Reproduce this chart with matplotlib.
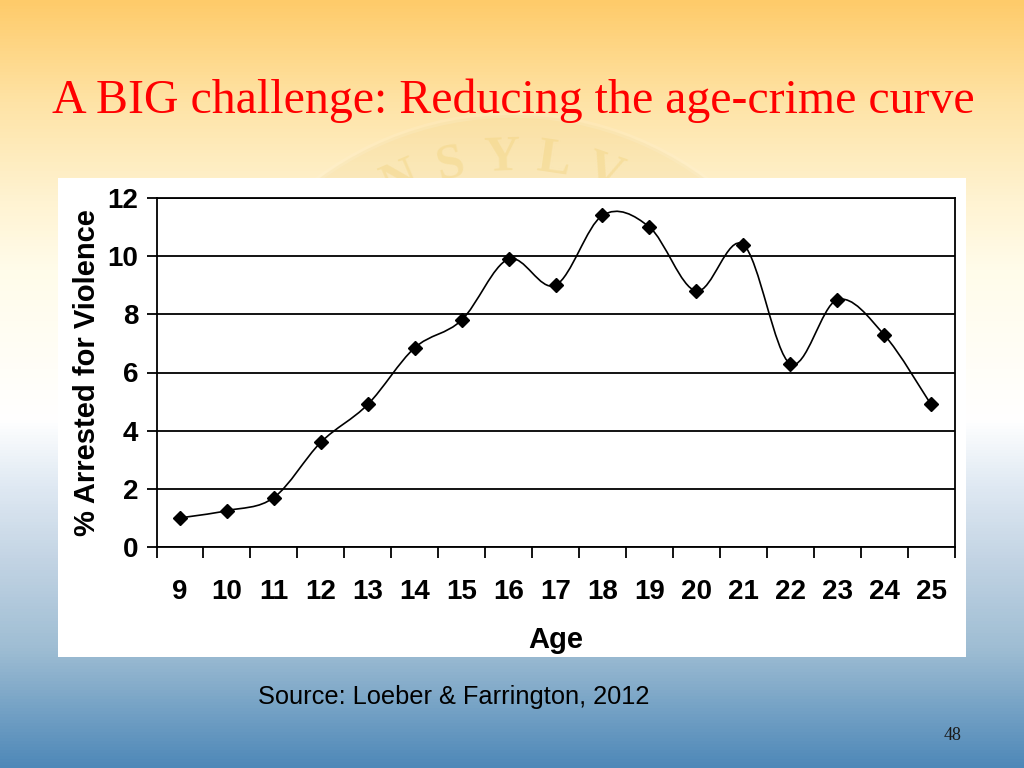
import numpy as np
import matplotlib
matplotlib.use("Agg")
import matplotlib.pyplot as plt
from matplotlib.path import Path
from matplotlib.patches import PathPatch, Rectangle, Ellipse
from matplotlib.colors import LinearSegmentedColormap

# ---- data ----
ages = [9, 10, 11, 12, 13, 14, 15, 16, 17, 18, 19, 20, 21, 22, 23, 24, 25]
pct_arrested = [1.0, 1.25, 1.7, 3.6, 4.9, 6.85, 7.8, 9.9, 9.0, 11.4, 11.0, 8.8, 10.4, 6.3, 8.5, 7.3, 4.9]
y_ticks = [0, 2, 4, 6, 8, 10, 12]
title = "A BIG challenge: Reducing the age-crime curve"
ylabel = "% Arrested for Violence"
xlabel = "Age"
source = "Source: Loeber & Farrington, 2012"
page = "48"
seal_word = "PENNSYLVANIA"

narrow = ["Liberation Sans Narrow", "DejaVu Sans Condensed", "Liberation Sans"]

W, H = 1024, 768
fig = plt.figure(figsize=(W / 100, H / 100), dpi=100)

# ---- slide background gradient ----
bg = fig.add_axes([0, 0, 1, 1], zorder=-10)
stops = [(0.0, "#FECB6A"), (100 / 768, "#FEE3A5"), (200 / 768, "#FFF3D2"),
         (270 / 768, "#FFFCEA"), (420 / 768, "#FFFFFF"), (480 / 768, "#E2EBF4"),
         (560 / 768, "#C3D4E4"), (650 / 768, "#9EBDD3"), (1.0, "#4E88B8")]
cmap = LinearSegmentedColormap.from_list("slide", stops)
grad = np.linspace(0, 1, 768).reshape(-1, 1)
bg.imshow(grad, aspect="auto", cmap=cmap, extent=[0, 1, 1, 0], zorder=0)
bg.set_xlim(0, 1)
bg.set_ylim(1, 0)
bg.axis("off")

# faint seal watermark (only visible above the chart panel)
cx, cy, R = 512, 440, 325
clip = Rectangle((0, 0), 1, 178 / H, transform=bg.transData, facecolor="none", edgecolor="none")
bg.add_patch(clip)
disc = Ellipse((cx / W, cy / H), 2 * R / W, 2 * R / H, facecolor="#E8C878", alpha=0.16,
               edgecolor="#FFF6E0", lw=4, zorder=1)
bg.add_patch(disc)
disc.set_clip_path(clip)
r_txt = 282
for i, ch in enumerate(seal_word):
    th = np.deg2rad((i - 5.2) * 10.5)
    px = cx + r_txt * np.sin(th)
    py = cy - r_txt * np.cos(th)
    if py < 190:
        t = bg.text(px / W, py / H, ch, color="#F0CF74", alpha=0.35, fontsize=36,
                    fontfamily="Liberation Serif", fontweight="bold",
                    rotation=-np.rad2deg(th), ha="center", va="center", zorder=1)
        t.set_clip_path(clip)

# white chart panel
bg.add_patch(Rectangle((58 / W, 178 / H), (966 - 58) / W, (657 - 178) / H,
                       facecolor="white", edgecolor="none", zorder=2))

# ---- chart ----
x0, x1 = 156.5, 954.5
y0, y1 = 198, 547
ax = fig.add_axes([x0 / W, 1 - y1 / H, (x1 - x0) / W, (y1 - y0) / H], zorder=5)
ax.set_facecolor("white")
xs = np.arange(len(ages))
ax.set_xlim(-0.5, len(ages) - 0.5)
ax.set_ylim(0, 12)

# smoothed line (Catmull-Rom style Bezier, like Excel smoothing)
pts = np.column_stack([xs, pct_arrested]).astype(float)
verts = [tuple(pts[0])]
codes = [Path.MOVETO]
n = len(pts)
for i in range(n - 1):
    p0 = pts[i - 1] if i > 0 else pts[i]
    p1 = pts[i]
    p2 = pts[i + 1]
    p3 = pts[i + 2] if i + 2 < n else pts[i + 1]
    c1 = p1 + (p2 - p0) / 6.0
    c2 = p2 - (p3 - p1) / 6.0
    verts += [tuple(c1), tuple(c2), tuple(p2)]
    codes += [Path.CURVE4] * 3
ax.add_patch(PathPatch(Path(verts, codes), facecolor="none", edgecolor="black", lw=1.2, zorder=3))
ax.plot(xs, pct_arrested, linestyle="none", marker="D", markersize=7,
        color="black", zorder=4)

ax.set_yticks(y_ticks)
ax.set_yticklabels([str(v) for v in y_ticks], fontfamily=narrow, fontweight="bold", fontsize=20)
ax.grid(axis="y", color="black", lw=1.3)
ax.set_axisbelow(True)
ax.set_xticks(np.arange(-0.5, len(ages), 1.0))
ax.set_xticklabels([])
ax.set_xticks(xs, minor=True)
ax.set_xticklabels([str(a) for a in ages], minor=True, fontfamily=narrow,
                   fontweight="bold", fontsize=20)
ax.tick_params(axis="x", which="major", direction="out", length=8, width=1.3, color="black")
ax.tick_params(axis="x", which="minor", length=0, pad=23)
ax.tick_params(axis="y", direction="out", length=7, width=1.3, pad=6)
for s in ax.spines.values():
    s.set_linewidth(1.3)
    s.set_color("black")

ax.set_xlabel(xlabel, fontfamily=narrow, fontweight="bold", fontsize=21, labelpad=15)
ax.set_ylabel(ylabel, fontfamily="Liberation Sans", fontweight="bold", fontsize=21, labelpad=5)

# ---- slide texts ----
fig.text(52 / W, 1 - 101 / H, title, color="#FF0000", fontfamily="Liberation Serif",
         fontsize=34.5, ha="left", va="center")
fig.text(258 / W, 1 - 697 / H, source, color="black", fontfamily="Liberation Sans",
         fontsize=18.3, ha="left", va="center")
fig.text(953 / W, 1 - 735 / H, page, color="#1a1a1a", fontfamily="Liberation Serif",
         fontsize=13, ha="center", va="center")

fig.savefig("out.png", dpi=100)
